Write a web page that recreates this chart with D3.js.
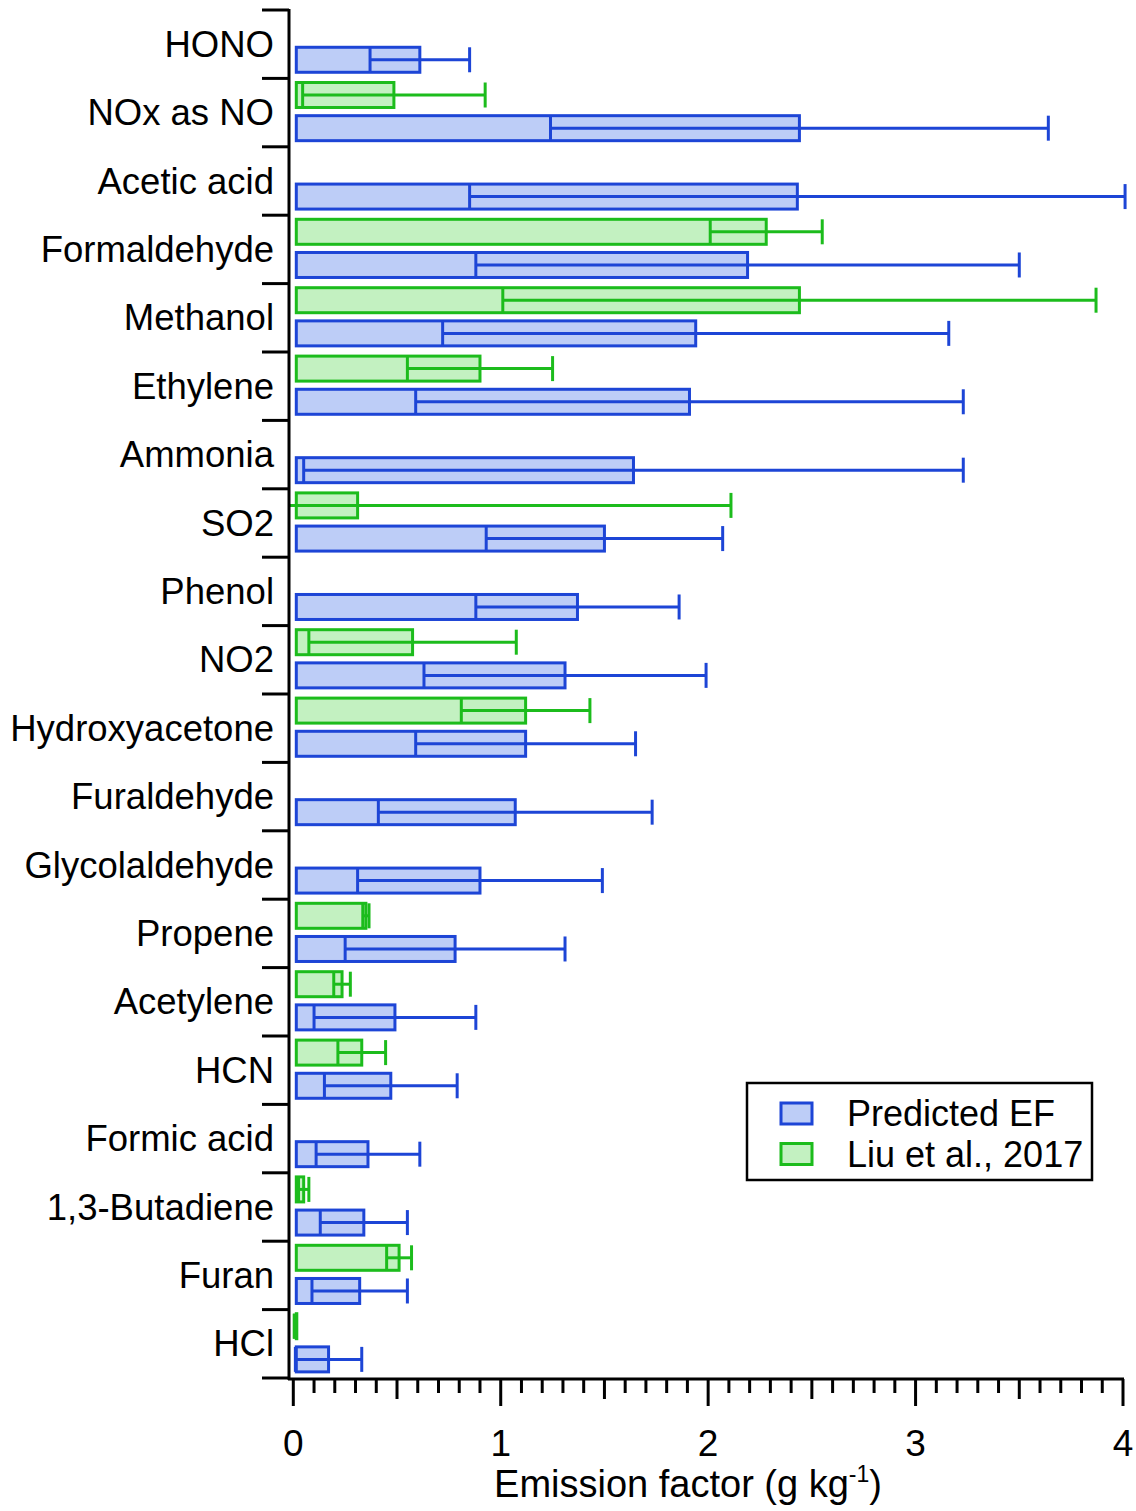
<!DOCTYPE html>
<html>
<head>
<meta charset="utf-8">
<script src="https://cdn.jsdelivr.net/npm/d3@7"></script>
<style>
  body { margin: 0; background: #fff; }
  text { font-family: "Liberation Sans", Arial, sans-serif; fill: #000; }
</style>
</head>
<body>
<div id="chart"></div>
<script>
// categories, top to bottom
var categories = ['HONO', 'NOx as NO', 'Acetic acid', 'Formaldehyde', 'Methanol', 'Ethylene',
  'Ammonia', 'SO2', 'Phenol', 'NO2', 'Hydroxyacetone', 'Furaldehyde', 'Glycolaldehyde',
  'Propene', 'Acetylene', 'HCN', 'Formic acid', '1,3-Butadiene', 'Furan', 'HCl'];

// Predicted EF (mean, sd)
var predMean = [0.61, 2.44, 2.43, 2.19, 1.94, 1.91, 1.64, 1.50, 1.37, 1.31, 1.12, 1.07, 0.90, 0.78, 0.49, 0.47, 0.36, 0.34, 0.32, 0.17];
var predSd   = [0.24, 1.20, 1.58, 1.31, 1.22, 1.32, 1.59, 0.57, 0.49, 0.68, 0.53, 0.66, 0.59, 0.53, 0.39, 0.32, 0.25, 0.21, 0.23, 0.16];

// Liu et al., 2017 (null = not reported)
var liuMean = [null, 0.485, null, 2.28, 2.44, 0.90, null, 0.31, null, 0.575, 1.12, null, null, 0.35, 0.235, 0.33, null, 0.05, 0.51, 0.005];
var liuSd   = [null, 0.44, null, 0.27, 1.43, 0.35, null, 1.80, null, 0.50, 0.31, null, null, 0.015, 0.04, 0.115, null, 0.025, 0.06, 0];

var xTicks = [0, 1, 2, 3, 4];

var series = [
  { name: 'Predicted EF', mean: predMean, sd: predSd, stroke: '#1d45d6', fill: '#bdcdf7', off: 0.545, h: 25 },
  { name: 'Liu et al., 2017', mean: liuMean, sd: liuSd, stroke: '#1cbc1c', fill: '#c3f1c1', off: 0.06, h: 25 }
];

var W = 1136, H = 1511;
var svg = d3.select('#chart').append('svg')
  .attr('width', W).attr('height', H);

var x = d3.scaleLinear().domain([0, 4]).range([293.3, 1123]);
var y = d3.scaleBand().domain(categories).range([10, 1378]);
var bx = 3; // bars sit a little right of the axis

svg.append('defs').append('clipPath').attr('id', 'plotclip')
  .append('rect').attr('x', 289).attr('y', 0).attr('width', W - 289).attr('height', 1378);

var plot = svg.append('g').attr('clip-path', 'url(#plotclip)');

series.forEach(function(s) {
  var rows = categories.map(function(c, i) {
    return { cat: c, m: s.mean[i], sd: s.sd[i] };
  }).filter(function(d) { return d.m !== null; });

  var g = plot.selectAll('g.' + (s.off < 0.3 ? 'liu' : 'pred'))
    .data(rows).enter().append('g');

  g.append('rect')
    .attr('x', x(0) + bx)
    .attr('y', function(d) { return y(d.cat) + y.bandwidth() * s.off; })
    .attr('width', function(d) { return Math.max(x(d.m) - x(0) - bx, 0.5); })
    .attr('height', s.h)
    .attr('fill', s.fill)
    .attr('stroke', s.stroke)
    .attr('stroke-width', 3);

  // error bar line
  g.append('line')
    .attr('x1', function(d) { return x(d.m - d.sd); })
    .attr('x2', function(d) { return x(d.m + d.sd); })
    .attr('y1', function(d) { return y(d.cat) + y.bandwidth() * s.off + s.h / 2; })
    .attr('y2', function(d) { return y(d.cat) + y.bandwidth() * s.off + s.h / 2; })
    .attr('stroke', s.stroke).attr('stroke-width', 3);

  // caps
  [-1, 1].forEach(function(sign) {
    g.append('line')
      .attr('x1', function(d) { return x(d.m + sign * d.sd); })
      .attr('x2', function(d) { return x(d.m + sign * d.sd); })
      .attr('y1', function(d) { return y(d.cat) + y.bandwidth() * s.off; })
      .attr('y2', function(d) { return y(d.cat) + y.bandwidth() * s.off + s.h; })
      .attr('stroke', s.stroke).attr('stroke-width', 3);
  });
});

// y axis
var yg = svg.append('g');
yg.append('line').attr('x1', 289).attr('x2', 289).attr('y1', 9).attr('y2', 1380)
  .attr('stroke', '#000').attr('stroke-width', 3);
var bounds = categories.map(function(c) { return y(c); }).concat([y.range()[1]]);
yg.selectAll('line.tk').data(bounds).enter().append('line')
  .attr('class', 'tk')
  .attr('x1', 262).attr('x2', 289)
  .attr('y1', function(d) { return d; }).attr('y2', function(d) { return d; })
  .attr('stroke', '#000').attr('stroke-width', 3);
yg.selectAll('text').data(categories).enter().append('text')
  .attr('x', 274)
  .attr('y', function(d) { return y(d) + y.bandwidth() / 2 + 12.5; })
  .attr('text-anchor', 'end')
  .attr('font-size', 36.5)
  .text(function(d) { return d; });

// x axis
var xg = svg.append('g');
xg.append('line').attr('x1', 288).attr('x2', x(4) + 1).attr('y1', 1379).attr('y2', 1379)
  .attr('stroke', '#000').attr('stroke-width', 3);
var minor = d3.range(0, 41).map(function(i) { return i / 10; });
xg.selectAll('line.mt').data(minor).enter().append('line')
  .attr('class', 'mt')
  .attr('x1', function(d) { return x(d); }).attr('x2', function(d) { return x(d); })
  .attr('y1', 1379)
  .attr('y2', function(d, i) { return i % 10 === 0 ? 1406 : (i % 5 === 0 ? 1399 : 1393); })
  .attr('stroke', '#000').attr('stroke-width', 3);
xg.selectAll('text').data(xTicks).enter().append('text')
  .attr('x', function(d) { return x(d); })
  .attr('y', 1456)
  .attr('text-anchor', 'middle')
  .attr('font-size', 37)
  .text(function(d) { return d; });

var title = svg.append('text')
  .attr('x', 688).attr('y', 1497)
  .attr('text-anchor', 'middle')
  .attr('font-size', 38);
title.append('tspan').text('Emission factor (g kg');
title.append('tspan').attr('font-size', 23).attr('dy', -15).text('-1');
title.append('tspan').attr('dy', 15).text(')');

// legend
var lg = svg.append('g');
lg.append('rect').attr('x', 747).attr('y', 1083).attr('width', 345).attr('height', 97)
  .attr('fill', '#fff').attr('stroke', '#000').attr('stroke-width', 2.5);
series.forEach(function(s, i) {
  lg.append('rect').attr('x', 781).attr('y', 1103 + i * 40.5).attr('width', 31).attr('height', 21)
    .attr('fill', s.fill).attr('stroke', s.stroke).attr('stroke-width', 3);
  lg.append('text').attr('x', 847).attr('y', 1126 + i * 40.5)
    .attr('font-size', 36).text(s.name);
});
</script>
</body>
</html>
